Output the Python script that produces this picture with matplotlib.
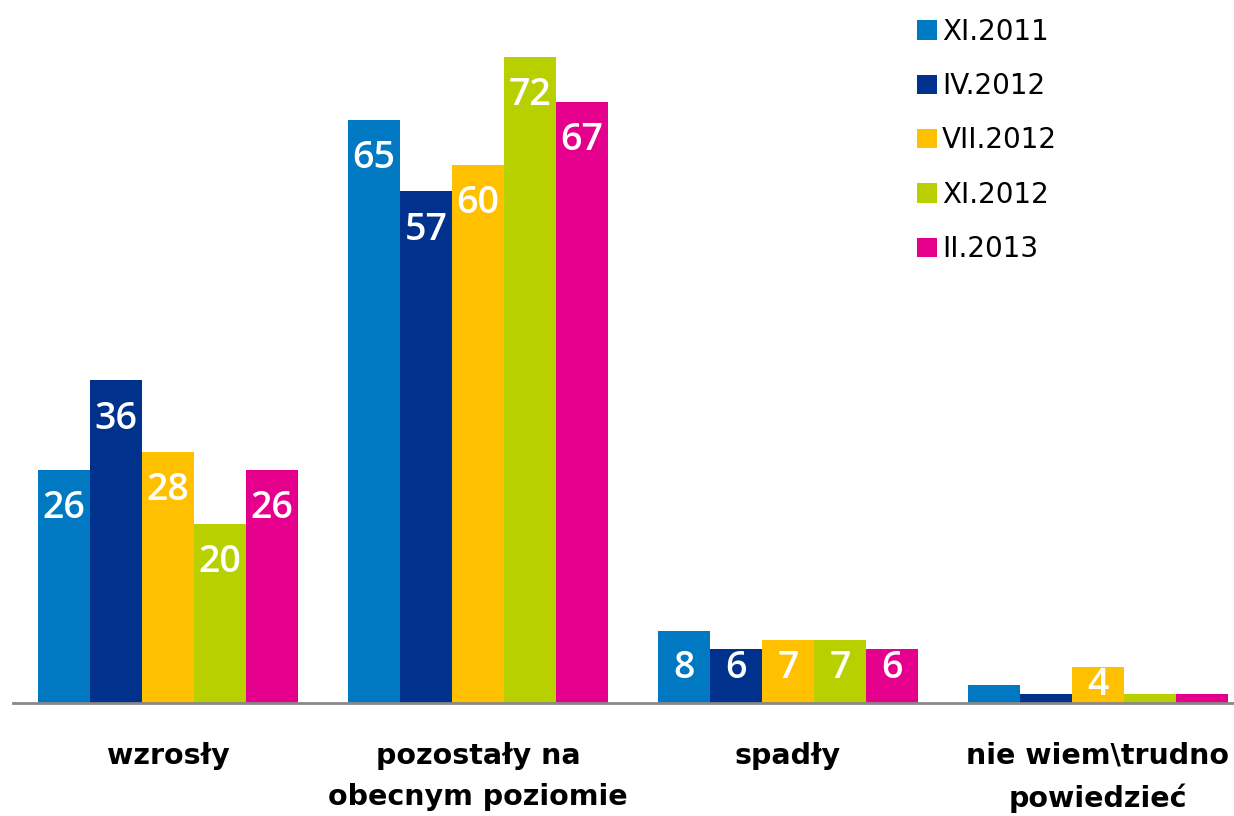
import numpy as np
import matplotlib.pyplot as plt

# Data
categories = ['wzrosły', 'pozostały na\nobecnym poziomie', 'spadły', 'nie wiem\\trudno\npowiedzieć']
series_names = ['XI.2011', 'IV.2012', 'VII.2012', 'XI.2012', 'II.2013']
xi_2011 = [26, 65, 8, 2]
iv_2012 = [36, 57, 6, 1]
vii_2012 = [28, 60, 7, 4]
xi_2012 = [20, 72, 7, 1]
ii_2013 = [26, 67, 6, 1]

values = [xi_2011, iv_2012, vii_2012, xi_2012, ii_2013]
colors = ['#0079C2', '#00318D', '#FFC000', '#B8D000', '#E4008C']

fig = plt.figure(figsize=(12.34, 8.16), dpi=100)
# axes run a little past the right edge, like the original
ax = fig.add_axes([13 / 1234, 113 / 816, 1240 / 1234, 700 / 816])

x = np.arange(len(categories))
bar_w = 52 / 310
n = len(series_names)

for i, (name, vals, col) in enumerate(zip(series_names, values, colors)):
    pos = x + (i - (n - 1) / 2) * bar_w
    ax.bar(pos, vals, width=bar_w, color=col, label=name, zorder=2)
    for px, v in zip(pos, vals):
        if v - 4.3 > 3.9:
            ty = v - 4.3
        elif v > 5:
            ty = 3.9
        elif v >= 3:
            ty = v / 2
        else:
            # Excel put these above the bar in white, so they vanish
            ty = v + 2.3
        ax.text(px, ty, str(v), ha='center', va='center', color='white',
                fontsize=27, family='Open Sans', fontweight='semibold', zorder=3)

ax.set_xlim(-0.5, 3.5)
ax.set_ylim(0, 78)
ax.set_yticks([])
ax.set_xticks(x)
ax.set_xticklabels(categories, fontsize=20.5, fontweight='bold', linespacing=1.6)
ax.tick_params(axis='x', length=0, pad=28)

for side in ['top', 'right', 'left']:
    ax.spines[side].set_visible(False)
ax.spines['bottom'].set_color('#888888')
ax.spines['bottom'].set_linewidth(2)

leg = ax.legend(loc='upper left', bbox_to_anchor=(893 / 1240, 0.995), frameon=False,
                fontsize=20, handlelength=0.7, handleheight=0.7, handletextpad=0.2,
                labelspacing=0.95, borderaxespad=0)

fig.savefig('out.png', dpi=100)
